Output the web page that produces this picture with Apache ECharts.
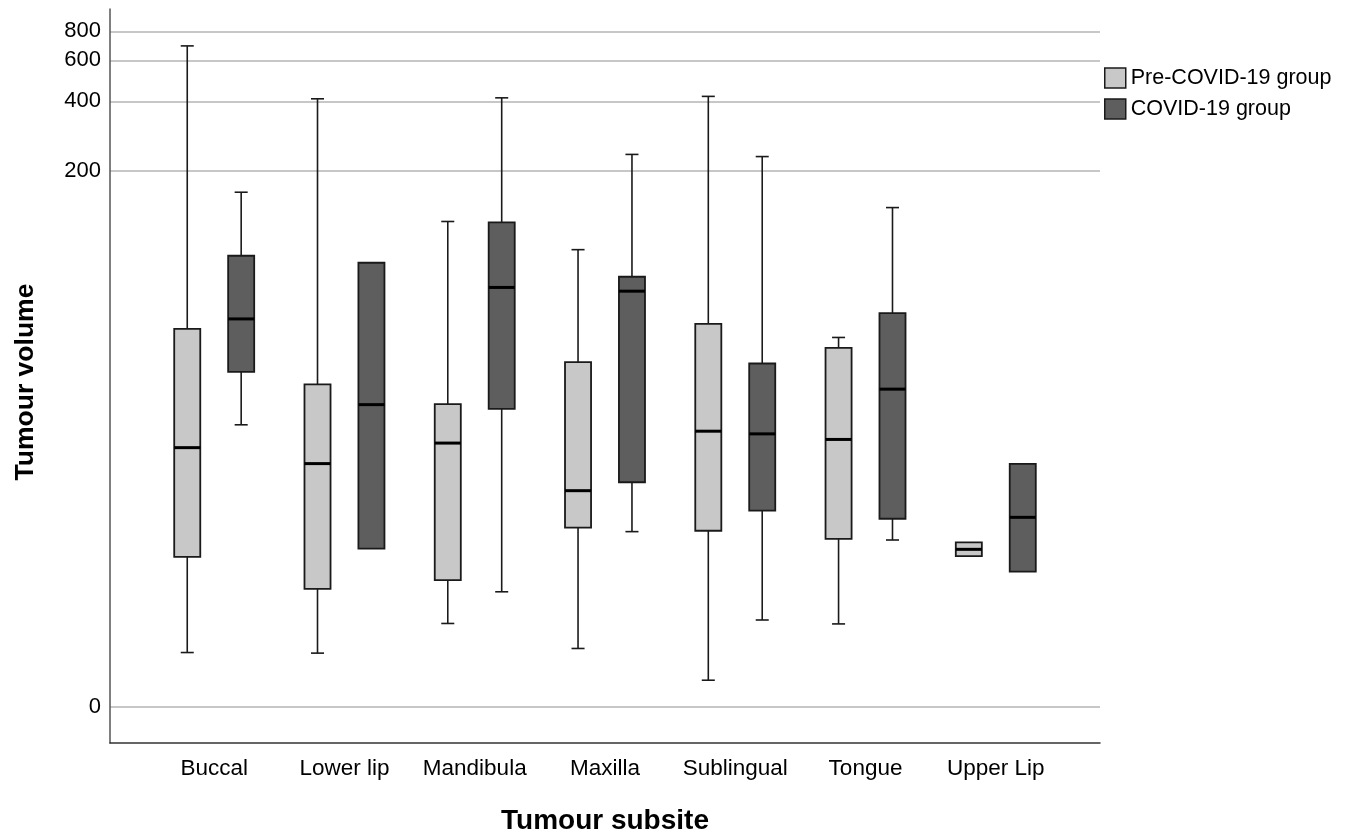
<!DOCTYPE html>
<html><head><meta charset="utf-8">
<script src="https://cdn.jsdelivr.net/npm/echarts@6/dist/echarts.min.js"></script>
<style>html,body{margin:0;padding:0;background:#fff}#c{width:1354px;height:840px}</style>
</head><body><div id="c"></div>
<script>
// Categories
const categories = ['Buccal', 'Lower lip', 'Mandibula', 'Maxilla', 'Sublingual', 'Tongue', 'Upper Lip'];
// Pre-COVID-19 group (tumour volume)
const preMin    = [0.71, 0.70, 1.28, 0.78, 0.30, 1.27, 3.44];
const preQ1     = [3.41, 2.21, 2.50, 4.89, 4.71, 4.27, 3.44];
const preMedian = [12.0, 10.1, 12.6, 7.49, 14.3, 13.1, 3.75];
const preQ3     = [41.1, 23.3, 19.0, 29.3, 43.3, 33.9, 4.09];
const preMax    = [693, 410, 121, 91.3, 420, 37.7, 4.09];
// COVID-19 group (tumour volume)
const covMin    = [15.3, 3.78, 2.12, 4.66, 1.36, 4.21, 2.81];
const covQ1     = [26.5, 3.78, 18.1, 8.23, 5.97, 5.43, 2.81];
const covMedian = [45.5, 18.9, 62.5, 60.2, 13.9, 22.2, 5.52];
const covQ3     = [85.9, 80.1, 120, 69.6, 28.9, 48.2, 10.07];
const covMax    = [162, 80.1, 414, 236, 231, 139, 10.07];
// Y tick labels
const yTickValues = [0, 200, 400, 600, 800];

const FONT = '"Liberation Sans", Arial, Helvetica, sans-serif';
const tf = v => Math.log10(v + 1);          // axis transform log10(v+1)
const yTickT = yTickValues.map(tf);
const BOX_W = 0.2, OFFSET = 0.207;

function build(mins, q1s, meds, q3s, maxs) {
  return categories.map((c, k) => [k, tf(mins[k]), tf(q1s[k]), tf(meds[k]), tf(q3s[k]), tf(maxs[k])]);
}

function makeRender(offset) {
  return function (params, api) {
    const i = api.value(0);
    const lo = api.value(1), q1 = api.value(2), md = api.value(3), q3 = api.value(4), hi = api.value(5);
    const band = api.size([1, 0])[0];
    const cx = api.coord([i, 0])[0] + offset * band;
    const hw = BOX_W * band / 2;
    const cw = hw / 2;
    const y = v => api.coord([i, v])[1];
    const ls = { stroke: '#1a1a1a', lineWidth: 1.6 };
    const ch = [];
    if (hi > q3 + 1e-9) {
      ch.push({ type: 'line', shape: { x1: cx, y1: y(q3), x2: cx, y2: y(hi) }, style: ls });
      ch.push({ type: 'line', shape: { x1: cx - cw, y1: y(hi), x2: cx + cw, y2: y(hi) }, style: ls });
    }
    if (lo < q1 - 1e-9) {
      ch.push({ type: 'line', shape: { x1: cx, y1: y(q1), x2: cx, y2: y(lo) }, style: ls });
      ch.push({ type: 'line', shape: { x1: cx - cw, y1: y(lo), x2: cx + cw, y2: y(lo) }, style: ls });
    }
    ch.push({ type: 'rect', shape: { x: cx - hw, y: y(q3), width: 2 * hw, height: y(q1) - y(q3) },
      style: { fill: api.visual('color'), stroke: '#1a1a1a', lineWidth: 1.8 } });
    ch.push({ type: 'line', shape: { x1: cx - hw, y1: y(md), x2: cx + hw, y2: y(md) },
      style: { stroke: '#000', lineWidth: 3 } });
    return { type: 'group', children: ch };
  };
}

const chart = echarts.init(document.getElementById('c'), null, { renderer: 'canvas' });
chart.setOption({
  animation: false,
  backgroundColor: '#fff',
  grid: { left: 110, right: 254, top: 9, bottom: 92, containLabel: false },
  legend: {
    orient: 'vertical', left: 1104, top: 67, icon: 'rect',
    itemWidth: 21, itemHeight: 20, itemGap: 9, padding: 0,
    textStyle: { fontSize: 21.5, color: '#000', fontFamily: FONT },
    data: [
      { name: 'Pre-COVID-19 group', itemStyle: { color: '#c8c8c8', borderColor: '#1a1a1a', borderWidth: 1.5 } },
      { name: 'COVID-19 group', itemStyle: { color: '#5e5e5e', borderColor: '#1a1a1a', borderWidth: 1.5 } }
    ]
  },
  xAxis: {
    type: 'value', min: -0.8, max: 6.8,
    name: 'Tumour subsite', nameLocation: 'middle', nameGap: 64,
    nameTextStyle: { fontSize: 28, fontWeight: 'bold', color: '#000', fontFamily: FONT },
    axisLine: { show: true, onZero: false, lineStyle: { color: '#333', width: 1.5 } },
    axisTick: { show: false },
    splitLine: { show: false },
    axisLabel: {
      customValues: categories.map((c, k) => k),
      formatter: v => categories[Math.round(v)] || '',
      fontSize: 22.5, color: '#000', margin: 14, fontFamily: FONT
    }
  },
  yAxis: {
    type: 'value', min: -0.156, max: 3.0,
    name: 'Tumour volume', nameLocation: 'middle', nameGap: 71,
    nameTextStyle: { fontSize: 26.5, fontWeight: 'bold', color: '#000', fontFamily: FONT, padding: [0, 12, 0, 0] },
    axisLine: { show: true, onZero: false, lineStyle: { color: '#555', width: 1.5 } },
    axisTick: { show: false, customValues: yTickT },
    axisLabel: {
      customValues: yTickT,
      formatter: v => { const k = yTickT.findIndex(t => Math.abs(t - v) < 1e-6); return k >= 0 ? String(yTickValues[k]) : ''; },
      fontSize: 22, color: '#000', margin: 9, fontFamily: FONT
    },
    splitLine: { show: true, lineStyle: { color: '#b4b4b4', width: 1.5 } }
  },
  series: [
    { name: 'Pre-COVID-19 group', type: 'custom', itemStyle: { color: '#c8c8c8' },
      renderItem: makeRender(-OFFSET), encode: { x: 0, y: [1, 2, 3, 4, 5] },
      data: build(preMin, preQ1, preMedian, preQ3, preMax) },
    { name: 'COVID-19 group', type: 'custom', itemStyle: { color: '#5e5e5e' },
      renderItem: makeRender(OFFSET), encode: { x: 0, y: [1, 2, 3, 4, 5] },
      data: build(covMin, covQ1, covMedian, covQ3, covMax) }
  ]
});
</script></body></html>
